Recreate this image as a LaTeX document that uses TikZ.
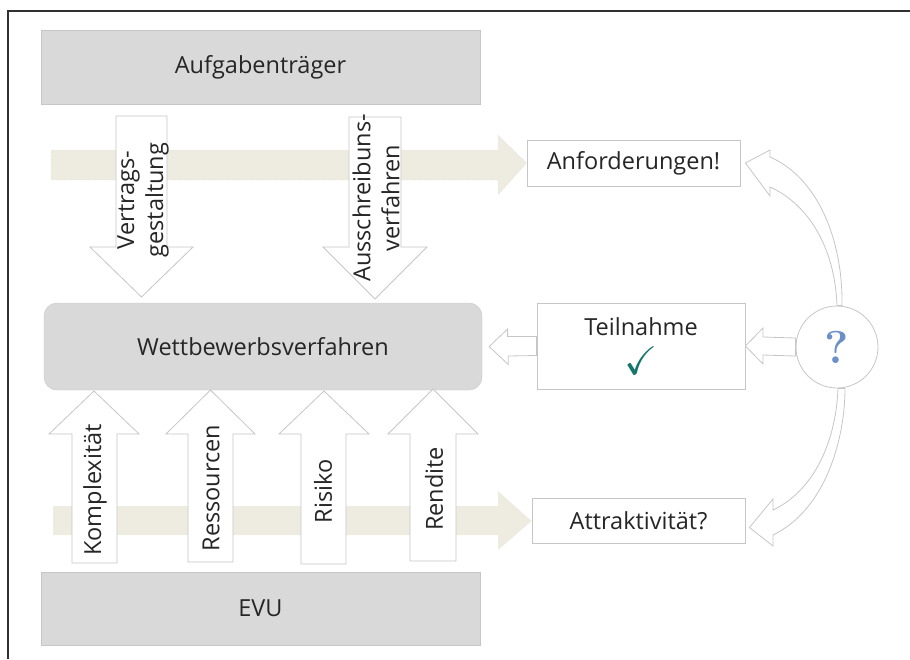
\documentclass[tikz,border=0pt]{standalone}
\usepackage{amssymb}
\usepackage{fontspec}
\setsansfont{Open Sans}
\usepackage{tikz}

\definecolor{boxgray}{HTML}{D9D9D9}
\definecolor{edgegray}{HTML}{C6C6C6}
\definecolor{beige}{HTML}{EEECE1}
\definecolor{txtgray}{HTML}{262626}
\definecolor{framegray}{HTML}{303030}
\definecolor{qblue}{HTML}{6B8FC9}
\definecolor{tick}{HTML}{17766C}

\begin{document}
\begin{tikzpicture}[x=1pt,y=-1pt,inner sep=1pt,
  every node/.style={text=txtgray,font=\sffamily\fontsize{23.5}{29}\selectfont},
  graybox/.style={draw=edgegray,fill=boxgray,minimum width=439pt},
  whitebox/.style={draw=edgegray,fill=white,line width=0.8pt},
  hollow/.style={draw=edgegray,fill=white,line width=0.8pt},
  band/.style={fill=beige},
  vlabel/.style={rotate=90,align=center,inner sep=0pt}]
\useasboundingbox (0,0) rectangle (910,659);
\draw[line width=1.6pt,framegray] (910,11) -- (8,11) -- (8,659);

% boxes
\node[graybox,minimum height=74pt] (auf) at (260.5,67) {Aufgabenträger};
\node[graybox,rounded corners=13pt,minimum width=438pt,minimum height=87pt] (wett) at (263,346.5) {Wettbewerbsverfahren};
\node[graybox,minimum height=73pt] (evu) at (260.5,608.5) {EVU};
\node[whitebox,minimum width=213pt,minimum height=46pt] (anf) at (633.5,163) {Anforderungen!};
\node[whitebox,minimum width=208pt,minimum height=86pt,align=center] (teil) at (641,346) {Teilnahme\\[10pt]{\color{tick}\fontsize{40}{40}\selectfont$\checkmark$}};
\node[whitebox,minimum width=213pt,minimum height=45pt] (attr) at (638.5,520.5) {Attraktivität?};
\node[whitebox,circle,minimum size=82pt,inner sep=0pt,text=qblue,font=\rmfamily\bfseries\fontsize{46}{46}\selectfont] (q) at (837,347) {?};

% beige bands
\fill[band,draw=edgegray,dotted] (51,150) -- (498,150) -- (498,135) -- (anf.west) -- (498,195) -- (498,180) -- (51,180) -- cycle;
\fill[band] (53,506) -- (498,506) -- (498,491) -- ([yshift=-0.5pt]attr.west) -- (498,550) -- (498,535) -- (53,535) -- cycle;

% down arrows
\draw[hollow] (116,116) -- (167,116) -- (167,247) -- (193,247) -- (141.5,297) -- (90,247) -- (116,247) -- cycle;
\draw[hollow] (349,117) -- (401,117) -- (401,247) -- (427,247) -- (375,299) -- (323,247) -- (349,247) -- cycle;
\node[vlabel] (vg) at (143,200) {Vertrags-\\gestaltung};
\node[vlabel] (av) at (376,198) {Ausschreibuns-\\verfahren};

% up arrows
\draw[hollow] (72,563) -- (117,563) -- (117,434) -- (139,434) -- (94,391) -- (49,434) -- (72,434) -- cycle;
\draw[hollow] (188,562) -- (233,562) -- (233,434) -- (255,434) -- (210.5,390) -- (166,434) -- (188,434) -- cycle;
\draw[hollow] (301,564) -- (346,564) -- (346,434) -- (369,434) -- (324,391) -- (279,434) -- (301,434) -- cycle;
\draw[hollow] (410,561) -- (456,561) -- (456,434) -- (478,434) -- (433,389) -- (388,434) -- (410,434) -- cycle;
\node[vlabel] (kx) at (95,490) {Komplexität};
\node[vlabel] (rs) at (211,488) {Ressourcen};
\node[vlabel] (rk) at (323,491.5) {Risiko};
\node[vlabel] (rd) at (434,489) {Rendite};

% small arrows
\draw[hollow] ([yshift=9.5pt]teil.west) -- ++(-29,0) -- ++(0,-7.5) -- ([xshift=7pt]wett.east) -- ++(19,18) -- ++(0,-8.5) -- ([yshift=-9.5pt]teil.west) -- cycle;
\draw[hollow] ([yshift=9pt]q.west) -- (763,337) -- ++(0,-9) -- (teil.east) -- (763,364) -- (763,355) -- ([yshift=-9pt]q.west) -- cycle;

% curved arrows
\draw[hollow] (q.north) .. controls (835,250) and (810,205) .. (770,187) -- (770,196) -- ([xshift=5pt]anf.east) -- (770,150) -- (770,157) .. controls (818,178) and (843,240) .. ([xshift=5pt]q.north) -- cycle;
\draw[hollow] ([xshift=1pt]q.south) .. controls (836,440) and (815,490) .. (773,510) -- (773,499) -- ([shift={(4pt,-7pt)}]attr.east) -- (773,546) -- (773,535) .. controls (825,510) and (845,440) .. ([xshift=8pt]q.south) -- cycle;

\end{tikzpicture}
\end{document}
